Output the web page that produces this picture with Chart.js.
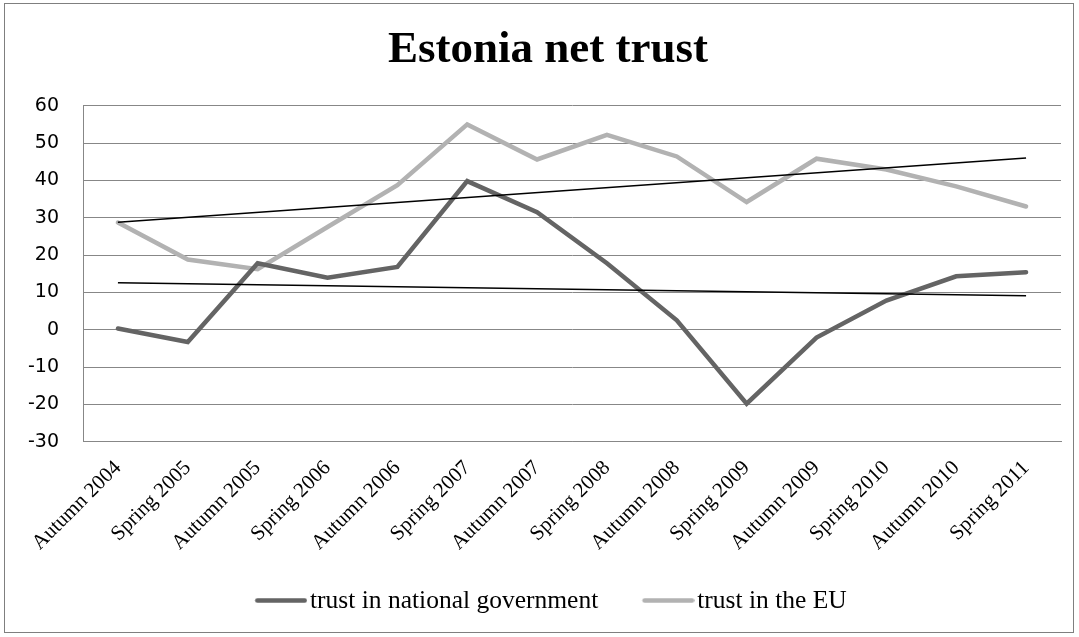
<!DOCTYPE html>
<html>
<head>
<meta charset="utf-8">
<title>Estonia net trust</title>
<script src="https://cdn.jsdelivr.net/npm/chart.js@4/dist/chart.umd.min.js"></script>
<style>
    html, body { margin: 0; padding: 0; background: #fff; }
    #frame {
        position: absolute; left: 4px; top: 3px;
        width: 1070px; height: 630px;
        box-sizing: border-box;
        border: 1px solid #7f7f7f;
    }
    #trustChart { position: absolute; left: 0; top: 0; }
</style>
</head>
<body>
<div id="frame"></div>
<canvas id="trustChart" width="1079" height="637"></canvas>
<script>
// Eurobarometer waves
const seasons = [
    'Autumn 2004', 'Spring 2005', 'Autumn 2005', 'Spring 2006', 'Autumn 2006',
    'Spring 2007', 'Autumn 2007', 'Spring 2008', 'Autumn 2008', 'Spring 2009',
    'Autumn 2009', 'Spring 2010', 'Autumn 2010', 'Spring 2011'
];

// Net trust (% trust minus % distrust)
const govTrust = [0.3, -3.3, 17.8, 13.9, 16.8, 39.8, 31.5, 17.8, 2.5, -19.8, -2.1, 7.8, 14.3, 15.4];
const euTrust = [28.7, 18.8, 16.2, 27.5, 38.7, 55.0, 45.6, 52.2, 46.4, 34.2, 45.8, 42.9, 38.4, 33.0];

// Linear trend lines: value at first and last wave
const govTrendEnds = [12.6, 9.1];
const euTrendEnds = [28.8, 46.0];

// Y axis range
const yMin = -30;
const yMax = 60;
const yStep = 10;

const colors = {
    gov: '#646464',
    eu: '#b2b2b2',
    trend: '#000000',
    grid: '#878787'
};

const serif = "'Liberation Serif', 'Times New Roman', serif";
const sans = "'DejaVu Sans', Verdana, sans-serif";

// Short thick line used as the legend marker, drawn into a small canvas so the
// label text can sit right next to it
function legendSwatch(color) {
    const c = document.createElement('canvas');
    c.width = 68;
    c.height = 10;
    const g = c.getContext('2d');
    g.strokeStyle = color;
    g.lineWidth = 4.5;
    g.lineCap = 'round';
    g.beginPath();
    g.moveTo(18, 4.5);
    g.lineTo(65.5, 4.5);
    g.stroke();
    return c;
}

function trendDataset(ends) {
    return {
        label: 'trend',
        data: [
            { x: seasons[0], y: ends[0] },
            { x: seasons[seasons.length - 1], y: ends[1] }
        ],
        borderColor: colors.trend,
        borderWidth: 1.5,
        pointRadius: 0,
        order: 0
    };
}

const ctx = document.getElementById('trustChart').getContext('2d');
new Chart(ctx, {
    type: 'line',
    data: {
        labels: seasons,
        datasets: [
            {
                label: 'trust in national government',
                data: govTrust,
                borderColor: colors.gov,
                backgroundColor: colors.gov,
                borderWidth: 4.5,
                borderCapStyle: 'round',
                pointRadius: 0,
                pointStyle: legendSwatch(colors.gov),
                order: 2
            },
            {
                label: 'trust in the EU',
                data: euTrust,
                borderColor: colors.eu,
                backgroundColor: colors.eu,
                borderWidth: 4.5,
                borderCapStyle: 'round',
                pointRadius: 0,
                pointStyle: legendSwatch(colors.eu),
                order: 3
            },
            trendDataset(govTrendEnds),
            trendDataset(euTrendEnds)
        ]
    },
    options: {
        responsive: false,
        animation: false,
        layout: {
            padding: { left: 17, right: 0, top: 0, bottom: 13.25 }
        },
        plugins: {
            title: {
                display: true,
                text: 'Estonia net trust',
                color: '#000',
                font: { family: serif, size: 45, weight: 'bold', lineHeight: 1.2 },
                padding: { top: 23, bottom: 28.7 }
            },
            legend: {
                position: 'bottom',
                labels: {
                    color: '#000',
                    font: { family: serif, size: 25.5 },
                    usePointStyle: true,
                    pointStyleWidth: 48,
                    padding: 38.25,
                    filter: function (item) {
                        return item.text !== 'trend';
                    }
                }
            },
            tooltip: { enabled: false }
        },
        scales: {
            x: {
                offset: true,
                grid: { display: false, drawTicks: false },
                border: { display: true, color: colors.grid, width: 1 },
                ticks: {
                    color: '#000',
                    font: { family: serif, size: 21 },
                    minRotation: 45,
                    maxRotation: 45,
                    autoSkip: false,
                    padding: 14
                },
                afterFit: function (scale) {
                    scale.height = 108.3;
                }
            },
            y: {
                min: yMin,
                max: yMax,
                grid: { color: colors.grid, lineWidth: 1, drawTicks: false },
                border: { display: true, color: colors.grid, width: 1 },
                ticks: {
                    stepSize: yStep,
                    color: '#000',
                    font: { family: sans, size: 19 },
                    padding: 24
                },
                afterFit: function (scale) {
                    scale.width = 66;
                }
            },
            // empty right-hand margin after the plot area
            yRight: {
                position: 'right',
                grid: { display: false, drawTicks: false },
                border: { display: false },
                ticks: { display: false },
                afterFit: function (scale) {
                    scale.width = 18;
                }
            }
        }
    }
});
</script>
</body>
</html>
